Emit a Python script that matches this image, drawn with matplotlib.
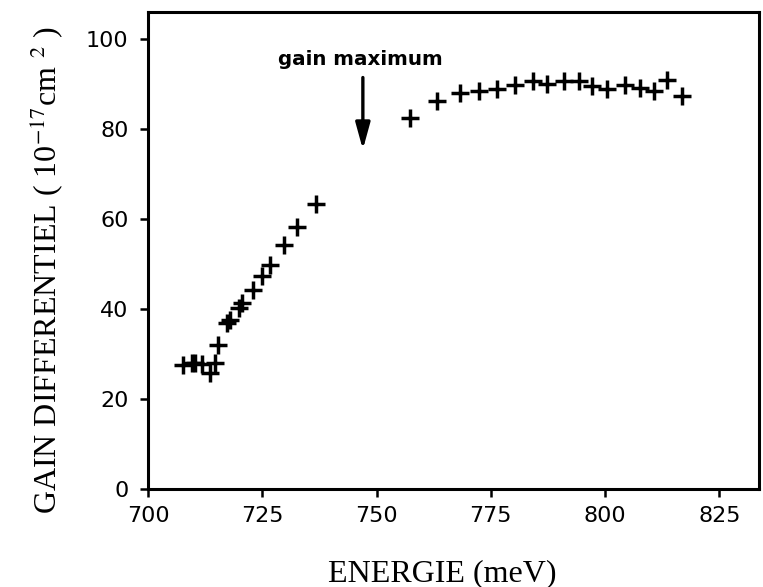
import matplotlib
matplotlib.use("Agg")
import matplotlib.pyplot as plt

# gain differentiel vs energie
energie_bas = [707.7, 709.6, 710.3, 711.7, 713.6, 714.7, 715.4, 717.2, 717.9,
               719.8, 720.5, 723.0, 724.9, 726.7, 729.8, 732.5, 736.7]
gain_bas = [27.6, 28.0, 28.0, 27.8, 25.8, 28.1, 32.1, 36.9, 37.6,
            40.2, 41.3, 44.3, 47.3, 49.9, 54.2, 58.2, 63.3]

energie_haut = [757.3, 763.3, 768.3, 772.3, 776.3, 780.3, 784.2, 787.2, 790.9,
                794.2, 797.1, 800.5, 804.4, 807.7, 810.6, 813.5, 816.8]
gain_haut = [82.6, 86.3, 88.1, 88.5, 89.0, 89.8, 90.7, 90.0, 90.7,
             90.7, 89.6, 89.0, 89.8, 89.2, 88.5, 90.9, 87.4]

x_ticks = [700, 725, 750, 775, 800, 825]
y_ticks = [0, 20, 40, 60, 80, 100]

gain_max_x = 747.0  # position of the arrow

plt.rcParams['mathtext.fontset'] = 'stix'

fig = plt.figure(figsize=(7.63, 5.87), dpi=100)
ax = fig.add_axes([0.194, 0.167, 0.801, 0.812])

ax.plot(energie_bas + energie_haut, gain_bas + gain_haut, linestyle='none',
        marker='+', markersize=13.5, markeredgewidth=2.5, color='black')

ax.annotate('', xy=(gain_max_x, 75.5), xytext=(gain_max_x, 91.5),
            arrowprops=dict(arrowstyle='-|>,head_length=0.8,head_width=0.22',
                            color='black', lw=2.4, mutation_scale=20,
                            shrinkA=0, shrinkB=0))
ax.text(gain_max_x - 0.6, 95.5, 'gain maximum', ha='center', va='center',
        fontsize=14.3, fontweight='bold', family='DejaVu Sans')

ax.set_xlim(700, 833.7)
ax.set_ylim(0, 106)
ax.set_xticks(x_ticks)
ax.set_yticks(y_ticks)

for s in ax.spines.values():
    s.set_linewidth(2.2)
ax.tick_params(direction='out', length=6, width=1.8, labelsize=16)
ax.tick_params(axis='y', pad=8)
ax.tick_params(axis='x', pad=6)
for lab in ax.get_xticklabels() + ax.get_yticklabels():
    lab.set_fontfamily('DejaVu Sans')

ax.set_xlabel('ENERGIE (meV)', fontsize=23, family='Liberation Serif',
              labelpad=24)
ax.xaxis.label.set_x(0.481)
ax.set_ylabel(r'GAIN DIFFERENTIEL ( 10$^{-17}$cm $^{2}$ )', fontsize=23,
              family='Liberation Serif', labelpad=15)
ax.yaxis.label.set_y(0.459)

fig.savefig('out.png', dpi=100)
